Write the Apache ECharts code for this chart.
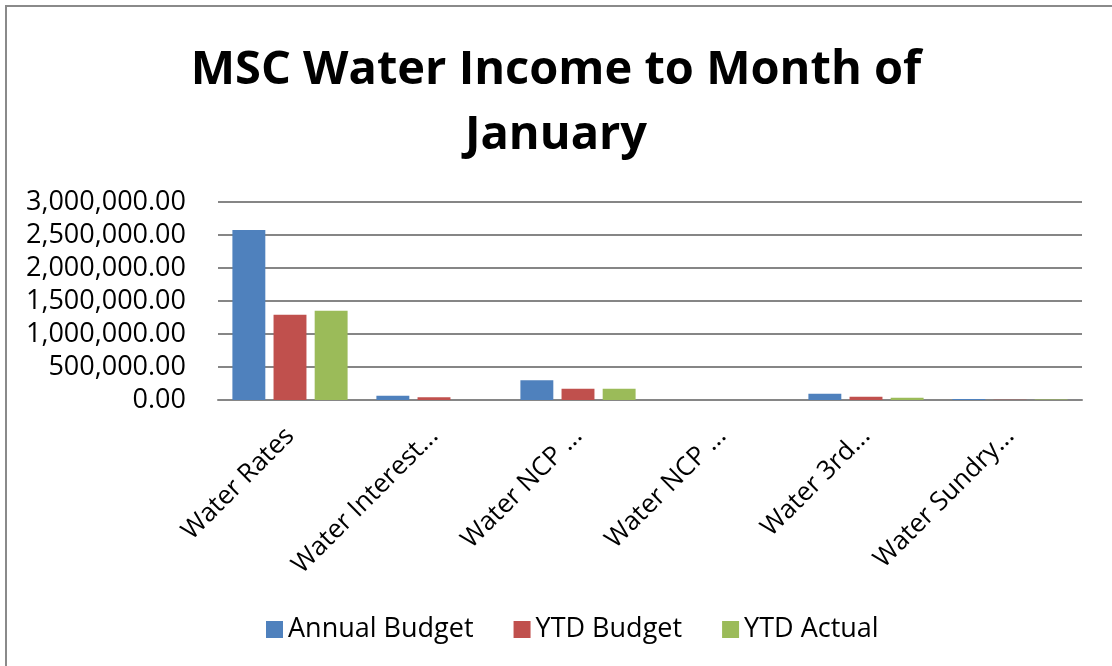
<!DOCTYPE html>
<html>
<head>
<meta charset="UTF-8">
<title>MSC Water Income to Month of January</title>
<script src="https://cdn.jsdelivr.net/npm/echarts@6/dist/echarts.min.js"></script>
<style>
    html, body {
        margin: 0;
        padding: 0;
        width: 1112px;
        height: 666px;
        overflow: hidden;
        background: #fff;
    }
    #frame {
        position: absolute;
        left: 5px;
        top: 5px;
        width: 1200px;
        height: 800px;
        border: 2px solid #8a8a8a;
    }
    #chart {
        position: absolute;
        left: 0;
        top: 0;
        width: 1112px;
        height: 666px;
    }
</style>
</head>
<body>
<div id="frame"></div>
<div id="chart"></div>
<script>
// data
var categories = ['Water Rates', 'Water Interest...', 'Water NCP ...', 'Water NCP ...', 'Water 3rd...', 'Water Sundry...'];
var annualBudget = [2574000, 65000, 300000, 0, 96000, 15000];
var ytdBudget = [1290000, 41000, 172000, 0, 50000, 3000];
var ytdActual = [1351000, 0, 172000, 0, 35000, 8000];
var seriesNames = ['Annual Budget', 'YTD Budget', 'YTD Actual'];
var colors = ['#4F81BD', '#C0504D', '#9BBB59'];

var font = '"Open Sans", "Noto Sans", sans-serif';

function fmt(v) {
    return v.toLocaleString('en-US', { minimumFractionDigits: 2, maximumFractionDigits: 2 });
}

var chart = echarts.init(document.getElementById('chart'));
var option = {
    animation: false,
    color: colors,
    title: {
        text: 'MSC Water Income to Month of\nJanuary',
        left: 'center',
        top: 33,
        textStyle: {
            fontFamily: font,
            fontWeight: 'bold',
            fontSize: 47,
            lineHeight: 65,
            color: '#000'
        }
    },
    legend: {
        data: seriesNames,
        top: 611,
        left: 261,
        itemWidth: 17,
        itemHeight: 17,
        itemGap: 40,
        icon: 'rect',
        textStyle: { fontFamily: font, fontSize: 27, color: '#000' }
    },
    grid: { left: 218, right: 30, top: 202, bottom: 266 },
    xAxis: {
        type: 'category',
        data: categories,
        axisLine: { show: true, lineStyle: { color: '#868686', width: 2 } },
        axisTick: { show: false },
        axisLabel: {
            interval: 0,
            rotate: 45,
            margin: 32,
            fontFamily: font,
            fontSize: 26,
            color: '#000'
        }
    },
    yAxis: {
        type: 'value',
        min: 0,
        max: 3000000,
        interval: 500000,
        axisLine: { show: false },
        axisTick: { show: false },
        splitLine: { lineStyle: { color: '#868686', width: 2 } },
        axisLabel: {
            margin: 32,
            fontFamily: font,
            fontSize: 27,
            color: '#000',
            formatter: fmt
        }
    },
    series: [
        { name: seriesNames[0], type: 'bar', data: annualBudget, barGap: '25%', barCategoryGap: '20%' },
        { name: seriesNames[1], type: 'bar', data: ytdBudget, barGap: '25%', barCategoryGap: '20%' },
        { name: seriesNames[2], type: 'bar', data: ytdActual, barGap: '25%', barCategoryGap: '20%' }
    ]
};
chart.setOption(option);
</script>
</body>
</html>
